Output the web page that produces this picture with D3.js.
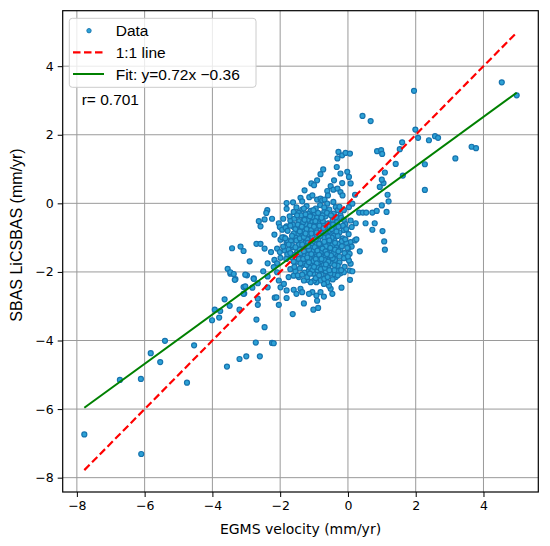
<!DOCTYPE html>
<html>
<head>
<meta charset="utf-8">
<script src="https://cdn.jsdelivr.net/npm/d3@7"></script>
<style>
  body { margin: 0; background: #fff; }
</style>
</head>
<body>
<div id="chart"></div>
<script>
// EGMS velocity (x) vs SBAS LiCSBAS velocity (y), mm/yr
var sparsePoints = [
  [-7.78,-6.74],[-6.10,-7.31],[-6.73,-5.15],[-6.11,-5.12],[-5.82,-4.37],[-5.54,-4.63],[-5.40,-4.01],[-4.75,-5.23],[-4.54,-4.14],
  [-4.01,-3.41],[-3.93,-3.10],[-3.77,-3.14],[-3.80,-3.33],[-3.64,-2.80],[-3.49,-2.99],[-3.20,-3.10],
  [-3.57,-4.76],[-3.20,-4.54],[-3.00,-4.46],[-2.72,-4.06],[-2.60,-4.46],[-2.24,-4.07],[-2.19,-4.08],
  [-2.70,-3.39],[-2.46,-3.61],[-2.66,-2.96],
  [-3.06,-2.63],[-3.08,-2.44],[-2.82,-2.46],[-2.66,-2.78],[-2.78,-2.19],[-2.98,-2.10],[-3.32,-2.21],[-3.47,-2.05],[-2.16,-2.75],
  [-3.55,-1.91],[-3.47,-2.01],[-3.34,-2.23],[-3.37,-2.06],
  [-3.03,-2.08],[-2.78,-2.20],[-2.66,-2.33],[-2.50,-1.98],[-2.37,-2.13],
  [-3.03,-2.42],[-3.08,-2.64],[-2.37,-2.45],
  [-2.11,-2.74],[-2.04,-2.96],[-1.81,-2.76],[-1.63,-3.23],
  [-3.42,-1.31],[-3.17,-1.26],[-3.08,-1.39],[-2.90,-1.69],
  [-2.70,-1.18],[-2.58,-1.18],[-2.46,-1.32],[-2.27,-1.42],[-2.09,-1.32],[-2.01,-1.42],[-1.87,-1.37],[-1.79,-1.49],
  [-2.37,-1.75],[-2.17,-1.65],[-2.09,-1.75],[-1.99,-1.59],
  [-2.19,-1.86],[-2.09,-2.01],[-2.04,-2.25],[-1.99,-2.45],
  [-2.38,-0.20],[-2.41,-0.28],[-2.24,-0.45],[-2.46,-0.47],[-2.63,-0.52],[-2.58,-0.67],
  [-2.04,-0.58],[-2.01,-0.69],[-2.17,-0.91],[-1.94,-0.77],[-1.81,-0.67],
  [-1.89,-0.99],[-1.81,-1.13],[-1.99,-1.06],
  [-1.81,0.01],[-1.62,0.03],
  [-1.30,-2.92],[-1.02,-3.10],[-0.88,-3.05],
  [-0.91,-2.84],[-0.71,-2.72],[-0.93,-2.69],[-0.81,-2.59],[-1.05,-2.59],[-1.15,-2.64],
  [-1.81,-2.54],[-1.60,-2.52],[-1.52,-2.64],[-1.40,-2.49],[-1.35,-2.59],
  [-0.51,-2.49],[-0.46,-2.64],[-0.56,-2.40],[-0.61,-2.30],[-0.71,-2.35],[-0.81,-2.25],[-0.93,-2.30],[-1.00,-2.25],[-1.10,-2.30],[-1.20,-2.23],[-1.30,-2.25],
  [-0.22,-2.04],[-0.27,-1.96],[-0.12,-2.01],[-0.36,-2.15],[-0.41,-2.06],[-0.61,-2.11],
  [-1.75,-2.15],[-1.60,-2.11],[-1.45,-2.15],[-1.89,-2.35],
  [-0.19,-2.46],[0.06,-2.23],[0.05,-1.96],[0.13,-1.98],[0.08,-1.76],[0.08,-1.13],[0.11,-1.26],
  [0.21,-1.08],[0.25,-1.05],[0.35,-1.40],[1.07,-1.11],[1.09,-1.35],
  [0.01,-1.32],[0.05,-1.47],[-0.07,-1.57],[0.03,-1.67],
  [0.11,-0.69],[0.08,-0.50],[0.23,-0.58],
  [0.52,-0.58],[0.79,-0.58],[0.72,-0.77],[1.02,-0.81],
  [0.21,0.25],[0.33,-0.27],[0.44,-0.27],[0.54,-0.27],[0.72,-0.27],[0.85,-0.22],[1.00,-0.06],[1.14,-0.25],[1.17,0.25],[1.20,0.06],
  [0.94,0.48],[1.05,0.59],[1.09,0.90],[1.00,0.69],
  [0.86,1.52],[0.98,1.55],[1.01,1.44],
  [-0.28,1.50],[-0.17,1.40],[-0.07,1.47],[0.06,1.45],[-0.31,1.31],[-0.33,1.06],
  [-0.73,0.99],[-0.22,0.87],[-0.02,0.92],[-0.81,0.85],[-0.91,0.67],[-0.17,0.59],[0.03,0.77],[0.08,0.58],[-0.41,0.67],
  [-1.08,0.58],[-1.00,0.53],[-1.28,0.38],[-0.51,0.50],[-0.43,0.40],[-0.31,0.43],[-0.22,0.33],[-0.16,0.23],[-0.61,0.36],[-0.59,0.23],
  [-1.14,0.18],[-1.05,0.23],[-0.91,0.11],[-0.81,0.14],[-1.40,0.16],[-1.35,0.06],
  [-0.76,0.09],[-0.69,0.11],[-0.61,-0.01],[-0.43,0.04],[-0.36,-0.11],[-0.30,-0.20],[-0.22,-0.35],[-0.12,-0.20],[0.03,-0.11],[0.13,-0.01],
  [4.54,3.53],[4.98,3.15],[1.95,3.28],[0.43,2.55],[0.67,2.40],[1.99,2.15],[2.07,1.91],[2.39,1.84],[2.57,1.96],[2.66,1.91],
  [1.60,1.78],[1.53,1.58],[3.65,1.65],[3.78,1.61],[3.17,1.31],[2.27,1.14],[2.27,0.39],[1.62,0.81],[1.41,1.15],
  [-1.81,-0.16],[-1.60,-0.25],[-1.91,-0.45],[-1.70,-0.50],[-1.84,-0.71],[-1.60,-0.69],[-1.94,-0.99],[-1.79,-1.08],[-1.91,-1.26],[-1.65,-1.28]
];

// the dense core of the cloud
var corePoints = [
  [-1.52,-0.12],[-1.35,-0.18],[-1.22,-0.08],[-1.10,-0.22],[-0.95,-0.15],[-0.82,-0.05],[-0.70,-0.25],[-0.55,-0.18],[-0.42,-0.30],[-1.45,-0.28],[-0.98,-0.32],[-0.25,-0.10],
  [-1.72,-0.38],[-1.58,-0.45],[-1.44,-0.52],[-1.30,-0.40],[-1.18,-0.48],[-1.05,-0.55],[-0.92,-0.42],[-0.80,-0.50],[-0.66,-0.38],[-0.58,-0.58],[-0.45,-0.48],[-0.32,-0.55],[-0.20,-0.42],[-0.08,-0.60],[-1.25,-0.60],[-0.98,-0.62],[-0.72,-0.65],[-1.62,-0.62],
  [-1.78,-0.80],[-1.55,-0.75],[-1.40,-0.70],[-1.28,-0.82],[-1.15,-0.72],[-1.02,-0.85],[-0.90,-0.70],[-0.78,-0.82],[-0.62,-0.75],[-0.50,-0.88],[-0.38,-0.72],[-0.25,-0.85],[-0.12,-0.78],[0.02,-0.90],[-1.48,-0.90],[-1.20,-0.92],[-0.95,-0.95],[-0.68,-0.92],[-0.42,-0.95],
  [-1.85,-1.02],[-1.68,-1.10],[-1.55,-1.00],[-1.38,-1.08],[-1.25,-1.15],[-1.12,-1.02],[-1.00,-1.12],[-0.88,-1.05],[-0.75,-1.18],[-0.62,-1.05],[-0.52,-1.15],[-0.40,-1.08],[-0.28,-1.18],[-0.15,-1.02],[-0.05,-1.15],[-1.45,-1.20],[-1.08,-1.22],[-0.82,-1.25],[-0.58,-1.22],[-0.35,-1.28],
  [-1.75,-1.35],[-1.62,-1.28],[-1.50,-1.42],[-1.35,-1.32],[-1.22,-1.40],[-1.10,-1.30],[-0.98,-1.42],[-0.85,-1.35],[-0.72,-1.45],[-0.60,-1.32],[-0.48,-1.40],[-0.35,-1.48],[-0.22,-1.35],[-0.10,-1.45],[-1.28,-1.52],[-1.02,-1.55],[-0.78,-1.55],[-0.55,-1.55],
  [-1.82,-1.62],[-1.65,-1.58],[-1.52,-1.70],[-1.40,-1.60],[-1.25,-1.68],[-1.12,-1.62],[-0.98,-1.75],[-0.88,-1.65],[-0.75,-1.72],[-0.62,-1.62],[-0.50,-1.75],[-0.38,-1.65],[-0.25,-1.72],[-0.12,-1.60],[-1.35,-1.80],[-1.08,-1.82],[-0.82,-1.85],[-0.58,-1.88],
  [-1.70,-1.92],[-1.55,-1.98],[-1.42,-1.90],[-1.28,-2.02],[-1.15,-1.95],[-1.02,-2.05],[-0.90,-1.95],[-0.78,-2.08],[-0.65,-1.98],[-0.52,-2.05],[-0.40,-1.95],[-0.30,-2.10],[-1.20,-2.15],[-0.95,-2.18],[-0.70,-2.20],[-0.45,-2.22],
  [-1.18,-0.30],[-1.05,-0.40],[-0.88,-0.58],[-1.32,-0.55],[-0.75,-0.35],[-1.12,-0.65],[-0.85,-0.78],[-1.35,-0.95],[-0.70,-1.00],[-1.15,-0.90],
  [-0.92,-1.20],[-1.20,-1.05],[-0.65,-1.25],[-1.42,-1.35],[-1.05,-1.38],[-0.80,-1.42],[-0.92,-1.55],[-1.18,-1.50],[-0.68,-1.58],[-1.30,-1.75],
  [-1.02,-1.68],[-0.72,-1.80],[-0.90,-1.85],[-1.12,-1.88],[-0.60,-0.60],[-1.42,-0.82],[-0.48,-1.00],[-0.95,-0.75],[-0.55,-0.80],[-1.25,-1.25],
  [-0.45,-1.60],[-1.58,-1.50],[-1.60,-0.88],[-0.30,-0.95],[-0.18,-1.25],[-0.02,-1.30],[-0.15,-0.65],[-0.30,-1.82],[-1.48,-2.10],[-1.65,-1.22],
  [-1.38,-0.35],[-1.25,-0.32],[-1.12,-0.38],[-0.88,-0.28],[-0.62,-0.28],[-0.50,-0.35],[-1.48,-0.62],[-1.36,-0.68],[-1.22,-0.75],[-1.08,-0.78],
  [-0.96,-0.52],[-0.84,-0.65],[-0.74,-0.52],[-0.66,-0.82],[-0.54,-0.68],[-0.44,-0.62],[-0.34,-0.82],[-1.52,-1.08],[-1.42,-1.02],[-1.30,-0.98],
  [-1.18,-1.15],[-1.05,-0.98],[-0.95,-1.05],[-0.82,-0.95],[-0.70,-1.12],[-0.58,-0.98],[-0.46,-1.22],[-0.38,-1.15],[-1.55,-1.28],[-1.40,-1.45],
  [-1.30,-1.40],[-1.15,-1.35],[-0.98,-1.28],[-0.90,-1.38],[-0.75,-1.32],[-0.66,-1.40],[-0.52,-1.30],[-0.42,-1.45],[-1.45,-1.62],[-1.32,-1.62],
  [-1.20,-1.58],[-1.08,-1.48],[-0.95,-1.62],[-0.85,-1.50],[-0.70,-1.65],[-0.58,-1.70],[-0.50,-1.52],[-1.22,-1.80],[-1.05,-1.95],[-0.92,-1.75],
  [-0.80,-1.92],[-0.68,-1.88],[-0.55,-1.95],[-1.40,-1.75],[-0.40,-1.80],[-1.12,-2.05],[-0.85,-2.10],[-0.60,-2.15],[-1.35,-2.08],[-0.25,-1.55],
  [-0.18,-1.10],[-0.28,-0.68],[-1.65,-0.95],[-1.70,-1.45],[-1.58,-1.85],[-0.10,-1.85],[-1.00,-0.68],[-0.78,-0.42],[-1.28,-0.48],[-1.15,-1.72],
  [-0.62,-1.48],[-0.85,-1.18],[-1.08,-0.88],[-0.55,-1.08],[-1.25,-0.88],[-0.92,-0.85],[-0.72,-0.72],[-0.48,-0.75],[-1.35,-1.20],[-1.00,-1.85],
  [-0.78,-1.62],[-1.18,-1.25],[-0.65,-1.78],[-0.38,-1.35],[-0.28,-1.40],[-1.02,-0.20],[-0.70,-0.12],[-1.30,-0.15],[-0.35,-0.40],[-0.12,-0.48],
  [-0.05,-0.75],[-0.08,-1.05],[0.00,-1.55],[-0.20,-1.95],[-1.60,-1.70],[-1.75,-1.20],[-1.70,-0.65],[-1.50,-0.35]
];

var xTicks = [-8, -6, -4, -2, 0, 2, 4];
var yTicks = [-8, -6, -4, -2, 0, 2, 4];
var fitSlope = 0.72, fitIntercept = -0.36;
var rValue = "r= 0.701";
var legendLabels = ["Data", "1:1 line", "Fit: y=0.72x \u22120.36"];

var data = sparsePoints.concat(corePoints);

var width = 550, height = 546;
var margin = { top: 10.7, right: 11.7, bottom: 54, left: 62.7 };
var plotW = width - margin.left - margin.right,
    plotH = height - margin.top - margin.bottom;

var svg = d3.select("#chart").append("svg")
    .attr("width", width)
    .attr("height", height);

// matplotlib style 5% padding around the data / line extent
var xExt = d3.extent(data, function (d) { return d[0]; });
var yLo = Math.min(xExt[0], d3.min(data, function (d) { return d[1]; }));
var yHi = Math.max(xExt[1], d3.max(data, function (d) { return d[1]; }));
var xPad = (xExt[1] - xExt[0]) * 0.05, yPad = (yHi - yLo) * 0.05;

var x = d3.scaleLinear().domain([xExt[0] - xPad, xExt[1] + xPad]).range([0, plotW]);
var y = d3.scaleLinear().domain([yLo - yPad, yHi + yPad]).range([plotH, 0]);

var g = svg.append("g")
    .attr("transform", "translate(" + margin.left + "," + margin.top + ")");

// grid
g.selectAll(".gx").data(xTicks).enter().append("line")
    .attr("x1", function (d) { return x(d); }).attr("x2", function (d) { return x(d); })
    .attr("y1", 0).attr("y2", plotH)
    .attr("stroke", "#9a9a9a").attr("stroke-width", 1);
g.selectAll(".gy").data(yTicks).enter().append("line")
    .attr("y1", function (d) { return y(d); }).attr("y2", function (d) { return y(d); })
    .attr("x1", 0).attr("x2", plotW)
    .attr("stroke", "#9a9a9a").attr("stroke-width", 1);

// points
g.append("g").selectAll("circle").data(data).enter().append("circle")
    .attr("cx", function (d) { return x(d[0]); })
    .attr("cy", function (d) { return y(d[1]); })
    .attr("r", 2.5)
    .attr("fill", "#2da2d6")
    .attr("stroke", "#1673ae")
    .attr("stroke-width", 1.2);

// 1:1 line and fit
g.append("line")
    .attr("x1", x(xExt[0])).attr("y1", y(xExt[0]))
    .attr("x2", x(xExt[1])).attr("y2", y(xExt[1]))
    .attr("stroke", "#ff0000").attr("stroke-width", 2.2)
    .attr("stroke-dasharray", "7.5,3.5");
g.append("line")
    .attr("x1", x(xExt[0])).attr("y1", y(fitSlope * xExt[0] + fitIntercept))
    .attr("x2", x(xExt[1])).attr("y2", y(fitSlope * xExt[1] + fitIntercept))
    .attr("stroke", "#008000").attr("stroke-width", 2);

// axes
var xAxis = g.append("g")
    .attr("transform", "translate(0," + plotH + ")")
    .call(d3.axisBottom(x).tickValues(xTicks).tickSize(5).tickPadding(4)
        .tickFormat(function (d) { return d < 0 ? "\u2212" + Math.abs(d) : d; }));
var yAxis = g.append("g")
    .call(d3.axisLeft(y).tickValues(yTicks).tickSize(5).tickPadding(4)
        .tickFormat(function (d) { return d < 0 ? "\u2212" + Math.abs(d) : d; }));
[xAxis, yAxis].forEach(function (a) {
    a.select(".domain").remove();
    a.selectAll("text").attr("font-family", "DejaVu Sans").attr("font-size", "12.5px").attr("fill", "#000");
    a.selectAll("line").attr("stroke", "#000");
});

// frame
g.append("rect")
    .attr("width", plotW).attr("height", plotH)
    .attr("fill", "none").attr("stroke", "#000").attr("stroke-width", 1.2);

// axis labels
svg.append("text")
    .attr("x", margin.left + plotW / 2).attr("y", 534)
    .attr("text-anchor", "middle")
    .attr("font-family", "DejaVu Sans").attr("font-size", "14px")
    .text("EGMS velocity (mm/yr)");
svg.append("text")
    .attr("transform", "translate(22,235) rotate(-90)")
    .attr("text-anchor", "middle")
    .attr("font-family", "Liberation Sans, Arial, sans-serif").attr("font-size", "16px")
    .text("SBAS LiCSBAS (mm/yr)");

// legend
var leg = svg.append("g");
leg.append("rect")
    .attr("x", 69.3).attr("y", 18.3).attr("width", 186.7).attr("height", 69)
    .attr("rx", 3)
    .attr("fill", "#fff").attr("fill-opacity", 0.8)
    .attr("stroke", "#cccccc").attr("stroke-width", 1);
var rowY = [30.7, 52.3, 74];
leg.append("circle")
    .attr("cx", 89).attr("cy", rowY[0]).attr("r", 2.2)
    .attr("fill", "#2da2d6").attr("stroke", "#1673ae").attr("stroke-width", 0.9);
leg.append("line")
    .attr("x1", 73).attr("x2", 104).attr("y1", rowY[1]).attr("y2", rowY[1])
    .attr("stroke", "#ff0000").attr("stroke-width", 2.2).attr("stroke-dasharray", "7.5,3.5");
leg.append("line")
    .attr("x1", 73).attr("x2", 104).attr("y1", rowY[2]).attr("y2", rowY[2])
    .attr("stroke", "#008000").attr("stroke-width", 2);
leg.selectAll(".lt").data(legendLabels).enter().append("text")
    .attr("x", 115.7)
    .attr("y", function (d, i) { return rowY[i]; })
    .attr("dy", "0.36em")
    .attr("font-family", "Liberation Sans, Arial, sans-serif").attr("font-size", "15.5px")
    .text(function (d) { return d; });

// correlation text
svg.append("text")
    .attr("x", 81.7).attr("y", 105)
    .attr("font-family", "Liberation Sans, Arial, sans-serif").attr("font-size", "15.5px")
    .text(rValue);
</script>
</body>
</html>
